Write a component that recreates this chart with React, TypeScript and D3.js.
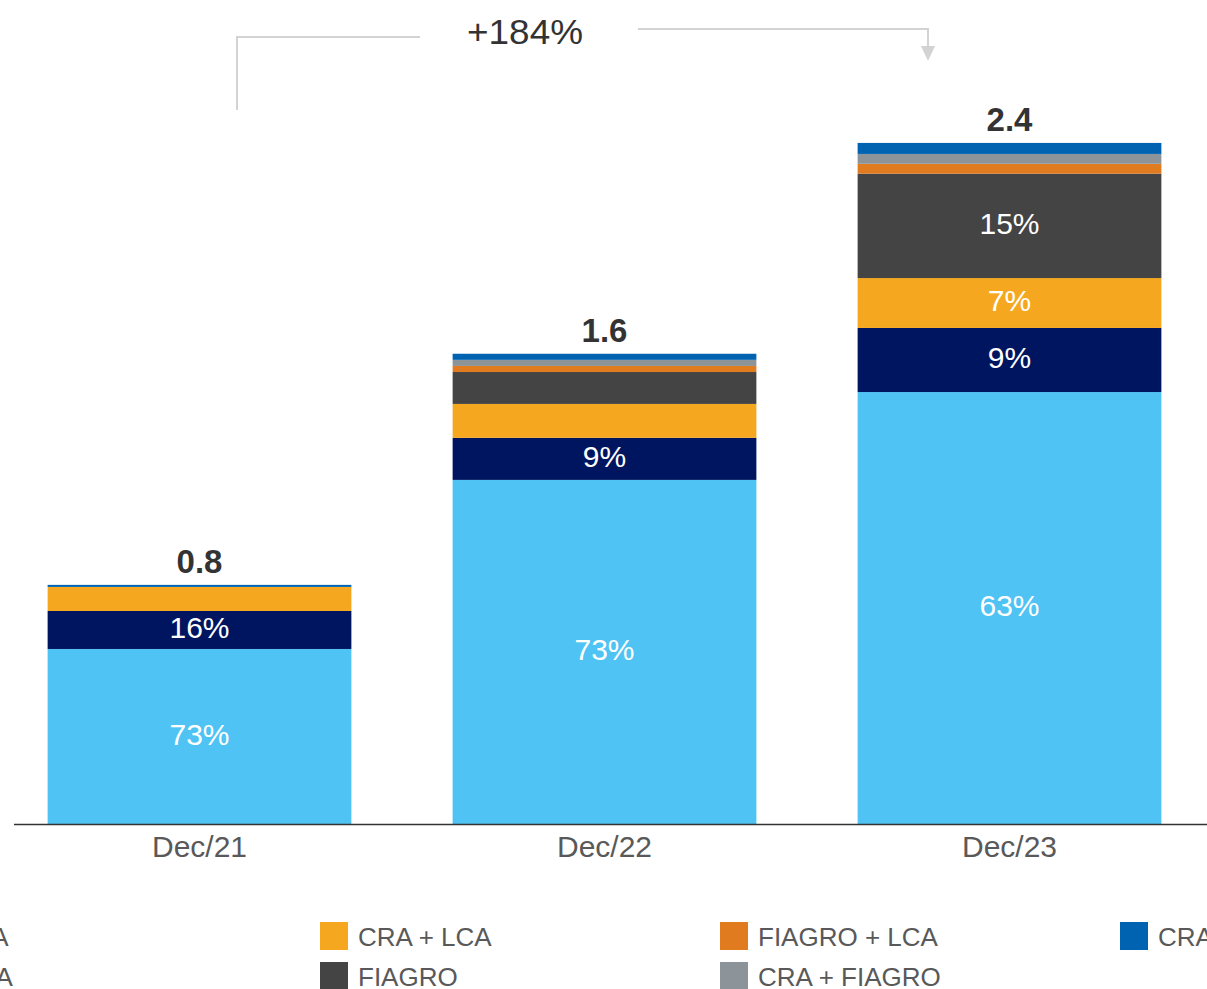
import React from "react";
import * as d3 from "d3";

const categories = ["Dec/21", "Dec/22", "Dec/23"];
const seriesNames = ["LCA", "CRA", "CRA + LCA", "FIAGRO", "FIAGRO + LCA", "CRA + FIAGRO", "CRA + FIAGRO + LCA"];
const seriesColors = ["#4FC3F3", "#001560", "#F5A71F", "#444444", "#E07B20", "#8C9399", "#0063B1"];
// values in R$ bn, per series, per category
const lcaValues = [0.607, 1.19, 1.493];
const craValues = [0.131, 0.145, 0.221];
const craLcaValues = [0.083, 0.117, 0.172];
const fiagroValues = [0, 0.11, 0.36];
const fiagroLcaValues = [0, 0.021, 0.034];
const craFiagroValues = [0, 0.021, 0.034];
const craFiagroLcaValues = [0.007, 0.021, 0.038];
const totalLabels = ["0.8", "1.6", "2.4"];
const growthLabel = "+184%";

const W = 1207;
const H = 989;
const FONT = "'Liberation Sans', Arial, Helvetica, sans-serif";

export default function App() {
  const seriesValues = [lcaValues, craValues, craLcaValues, fiagroValues, fiagroLcaValues, craFiagroValues, craFiagroLcaValues];
  const rows = categories.map((c, i) => {
    const r: any = { cat: c };
    seriesNames.forEach((s, j) => (r[s] = seriesValues[j][i]));
    return r;
  });
  const stack = d3.stack<any>().keys(seriesNames)(rows);
  const totals = categories.map((_, i) => d3.sum(seriesValues, (v) => v[i]));

  const x = d3.scaleBand<string>().domain(categories).range([-3, 1212]).paddingInner(0.25).paddingOuter(0.125);
  const y = d3.scaleLinear().domain([0, 2.4]).range([825, 129]);

  const legendCols = [-80, 320, 720, 1120];

  return (
    <svg width={W} height={H} style={{ position: "absolute", left: 0, top: 0, display: "block" }} fontFamily={FONT}>
      <rect width={W} height={H} fill="#fff" />
      {stack.map((layer, j) => (
        <g key={j} fill={seriesColors[j]}>
          {layer.map((d, i) => {
            const h = y(d[0]) - y(d[1]);
            if (h <= 0) return null;
            return <rect key={i} x={x(categories[i])!} width={x.bandwidth()} y={y(d[1])} height={h} />;
          })}
        </g>
      ))}
      {stack.map((layer, j) =>
        layer.map((d, i) => {
          const h = y(d[0]) - y(d[1]);
          if (h < 36) return null;
          const pct = Math.round(((d[1] - d[0]) / totals[i]) * 100);
          return (
            <text
              key={`l${j}-${i}`}
              x={x(categories[i])! + x.bandwidth() / 2}
              y={(y(d[0]) + y(d[1])) / 2}
              dy="0.26em"
              textAnchor="middle"
              fill="#fff"
              fontSize={30}
            >
              {pct}%
            </text>
          );
        })
      )}
      {categories.map((c, i) => (
        <text key={`t${i}`} x={x(c)! + x.bandwidth() / 2} y={y(totals[i]) - 12} textAnchor="middle" fontSize={33} fontWeight="bold" fill="#333">
          {totalLabels[i]}
        </text>
      ))}
      <line x1={14} x2={W} y1={824.5} y2={824.5} stroke="#333" strokeWidth={1.5} />
      {categories.map((c) => (
        <text key={c} x={x(c)! + x.bandwidth() / 2} y={857} textAnchor="middle" fontSize={30} fill="#595959">
          {c}
        </text>
      ))}
      {/* growth annotation */}
      <g stroke="#d3d3d3" strokeWidth={2} fill="none">
        <polyline points="237,110 237,37 420,37" />
        <polyline points="638,29 928,29 928,47" />
      </g>
      <polygon points="921,46 935,46 928,61" fill="#d3d3d3" />
      <text x={525} y={44} textAnchor="middle" fontSize={35} fill="#333" textLength={116} lengthAdjust="spacingAndGlyphs">
        {growthLabel}
      </text>
      {/* legend */}
      {seriesNames.map((s, j) => {
        const col = Math.floor(j / 2);
        const row = j % 2;
        const lx = legendCols[col];
        const ly = 922 + row * 40;
        return (
          <g key={s}>
            <rect x={lx} y={ly} width={28} height={28} fill={seriesColors[j]} />
            <text x={lx + 38} y={ly + 24} fontSize={26} fill="#595959">
              {s}
            </text>
          </g>
        );
      })}
    </svg>
  );
}
